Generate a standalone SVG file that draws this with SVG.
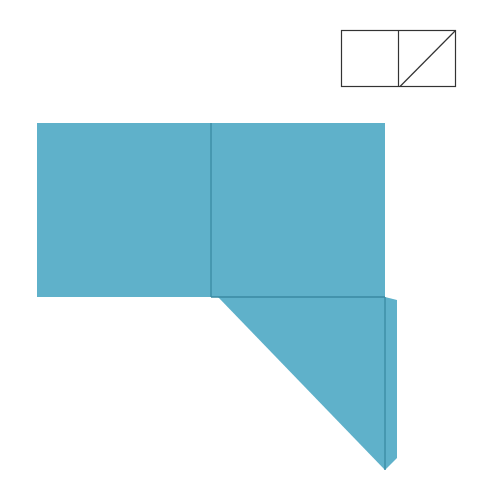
<svg xmlns="http://www.w3.org/2000/svg" width="480" height="480" viewBox="0 0 480 480">
<style>
.face{fill:#5fb1ca;stroke:none}
.crease{stroke:#3a8aa2;stroke-width:1.3;fill:none}
.icon{fill:none;stroke:#333;stroke-width:1.2}
</style>
<rect width="480" height="480" fill="#fff"/>
<g id="icon">
<rect class="icon" x="341.5" y="30.5" width="114" height="56"/>
<line class="icon" x1="398.5" y1="30.5" x2="398.5" y2="86.5"/>
<line class="icon" x1="400" y1="86.5" x2="455.5" y2="30.5"/>
</g>
<g id="paper">
<rect class="face" x="37" y="123" width="348" height="174"/>
<polygon class="face" points="385,297 397,300 397,458 385,470"/>
<polygon class="face" points="218,297 385,297 385,470"/>
</g>
<g id="creases">
<line class="crease" x1="211" y1="123" x2="211" y2="297"/>
<line class="crease" x1="211" y1="297" x2="385" y2="297"/>
<line class="crease" x1="385" y1="297" x2="385" y2="470"/>
</g>
</svg>
